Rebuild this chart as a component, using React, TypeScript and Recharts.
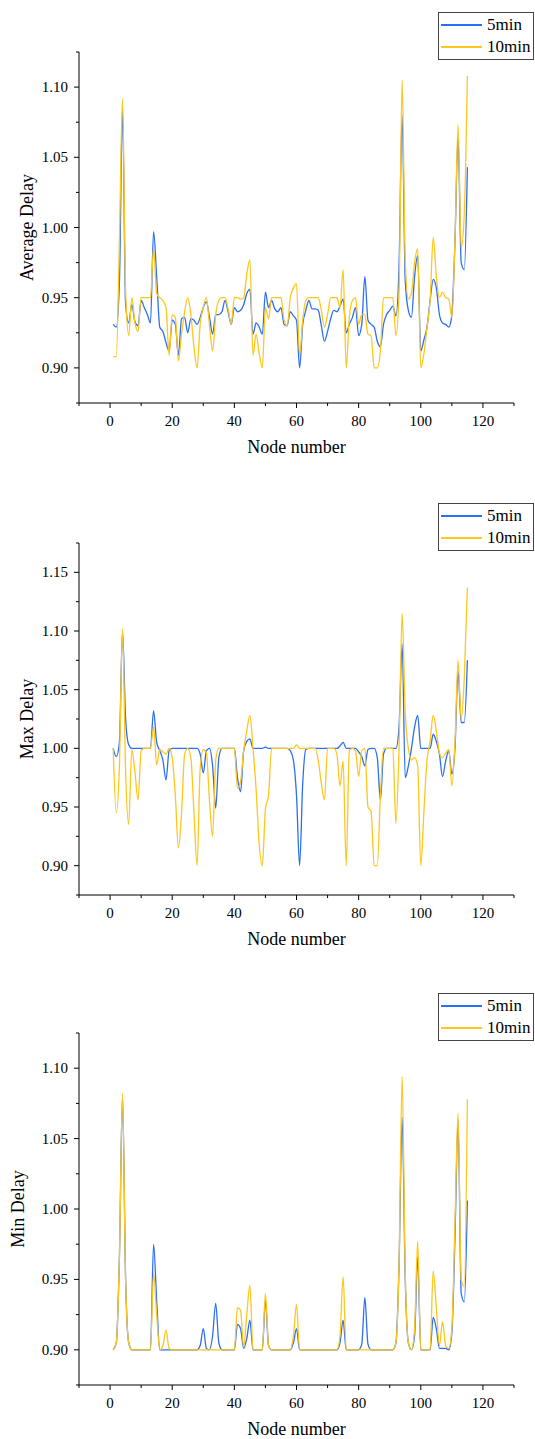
import React from "react";
import { LineChart, Line, XAxis, YAxis } from "recharts";

// node numbers along the x axis
const nodes = Array.from({ length: 115 }, (_, i) => i + 1);

const xTicks = [-10, 0, 10, 20, 30, 40, 50, 60, 70, 80, 90, 100, 110, 120, 130];
const avgTicks = [0.875, 0.9, 0.925, 0.95, 0.975, 1.0, 1.025, 1.05, 1.075, 1.1, 1.125];
const maxTicks = [0.875, 0.9, 0.925, 0.95, 0.975, 1.0, 1.025, 1.05, 1.075, 1.1, 1.125, 1.15, 1.175];
const minTicks = [0.875, 0.9, 0.925, 0.95, 0.975, 1.0, 1.025, 1.05, 1.075, 1.1, 1.125];

// Average delay
const avg5 = [
  0.931, 0.929, 0.96, 1.085, 0.945, 0.932, 0.945, 0.933, 0.93, 0.948,
  0.943, 0.938, 0.932, 0.997, 0.965, 0.929, 0.926, 0.918, 0.912, 0.934,
  0.931, 0.909, 0.935, 0.936, 0.925, 0.935, 0.934, 0.931, 0.936, 0.943,
  0.947, 0.936, 0.924, 0.938, 0.938, 0.94, 0.948, 0.94, 0.931, 0.943,
  0.94, 0.941, 0.945, 0.953, 0.956, 0.924, 0.932, 0.929, 0.924, 0.954,
  0.943, 0.948, 0.942, 0.94, 0.943, 0.931, 0.93, 0.94, 0.937, 0.934,
  0.9, 0.931, 0.941, 0.948, 0.942, 0.942, 0.941, 0.93, 0.919, 0.926,
  0.935, 0.941, 0.94, 0.944, 0.949, 0.925, 0.931, 0.936, 0.943, 0.923,
  0.931, 0.965, 0.934, 0.931, 0.929, 0.919, 0.915, 0.931, 0.938, 0.941,
  0.944, 0.937, 0.972, 1.08, 0.962, 0.941, 0.936, 0.965, 0.98, 0.912,
  0.92, 0.929, 0.948, 0.963, 0.957, 0.938, 0.932, 0.931, 0.929, 0.938,
  0.99, 1.065, 0.975, 0.97, 1.043,
];
const avg10 = [
  0.908, 0.908, 0.99, 1.092, 0.955, 0.923, 0.95, 0.932, 0.926, 0.95,
  0.95, 0.95, 0.95, 0.985, 0.953, 0.95, 0.948, 0.943, 0.909, 0.938,
  0.936, 0.905, 0.924, 0.94, 0.95, 0.938, 0.915, 0.9, 0.931, 0.943,
  0.95, 0.93, 0.912, 0.938, 0.948, 0.95, 0.95, 0.942, 0.931, 0.95,
  0.95, 0.949, 0.95, 0.967, 0.977, 0.909, 0.924, 0.91, 0.9, 0.943,
  0.935, 0.95, 0.95, 0.95, 0.95, 0.934, 0.93, 0.95, 0.957, 0.96,
  0.909, 0.934, 0.948, 0.95, 0.95, 0.95, 0.95, 0.941, 0.929, 0.938,
  0.95, 0.95, 0.95, 0.943, 0.97, 0.9, 0.936, 0.948, 0.95, 0.931,
  0.938, 0.938, 0.924, 0.923, 0.9, 0.9, 0.912, 0.95, 0.95, 0.95,
  0.95, 0.923, 0.953, 1.105, 0.976, 0.949, 0.953, 0.975, 0.985, 0.9,
  0.91, 0.929, 0.948, 0.993, 0.965, 0.95, 0.954, 0.95, 0.949, 0.936,
  0.99, 1.073, 0.985, 1.01, 1.108,
];

// Max delay
const max5 = [
  1.0, 0.993, 1.005, 1.1, 1.025, 1.003, 1.0, 1.0, 1.0, 1.0,
  1.0, 1.0, 1.0, 1.032, 1.005, 0.998, 0.99, 0.973, 0.998, 1.0,
  1.0, 1.0, 1.0, 1.0, 1.0, 1.0, 1.0, 1.0, 0.995, 0.979,
  0.998, 1.0, 0.985, 0.949, 0.992, 1.0, 1.0, 1.0, 1.0, 1.0,
  0.975, 0.963, 0.998, 1.006, 1.008, 1.0, 1.0, 1.0, 1.0, 1.001,
  1.0, 1.0, 1.0, 1.0, 1.0, 1.0, 1.0, 0.998, 0.99, 0.96,
  0.9, 0.97, 0.999, 1.0, 1.0, 1.0, 1.0, 1.0, 1.0, 1.0,
  1.0, 1.0, 1.0, 1.002, 1.005, 1.0, 1.0, 1.0, 1.0, 0.997,
  0.993, 0.985, 0.999, 1.0, 1.0, 0.992, 0.956, 0.995, 1.0, 1.0,
  1.0, 1.0, 1.018, 1.089, 0.975, 0.985, 1.0, 1.018, 1.028, 1.0,
  1.0, 1.0, 1.0, 1.012, 1.006, 0.995, 0.976, 0.989, 0.998, 0.978,
  1.0, 1.066, 1.022, 1.022, 1.075,
];
const max10 = [
  1.0, 0.945, 0.985, 1.102, 0.98, 0.935, 0.999, 0.98, 0.956, 0.998,
  1.0, 1.0, 1.0, 1.018, 0.986, 0.999, 0.997, 0.995, 1.0, 0.992,
  0.96, 0.915, 0.945, 0.995, 1.0, 0.992, 0.945, 0.9, 0.983, 0.999,
  0.996, 0.955, 0.925, 0.99, 1.0, 1.0, 1.0, 1.0, 1.0, 1.0,
  0.966, 0.972, 0.998, 1.015, 1.028, 1.0, 0.965, 0.918, 0.9, 0.948,
  0.96, 1.0, 1.0, 1.0, 1.0, 1.0, 1.0, 1.0, 1.0, 1.003,
  1.0, 1.0, 1.0, 1.0, 1.0, 1.0, 0.99, 0.97, 0.956, 1.0,
  1.0, 1.0, 0.995, 0.968, 0.989, 0.9, 0.998, 1.0, 0.998, 0.976,
  0.998, 1.0, 0.95, 0.946, 0.9, 0.9, 0.96, 1.0, 1.0, 1.0,
  1.0, 0.936, 1.0, 1.115, 1.03, 1.0, 0.99, 0.992, 0.985, 0.9,
  0.946, 0.99, 1.006, 1.028, 1.015, 0.996, 0.992, 0.996, 0.999, 0.968,
  1.005, 1.075, 1.025, 1.06, 1.137,
];

// Min delay
const min5 = [
  0.9, 0.905, 0.965, 1.08, 0.95, 0.905, 0.9, 0.9, 0.9, 0.9,
  0.9, 0.9, 0.9, 0.975, 0.935, 0.9, 0.9, 0.9, 0.9, 0.9,
  0.9, 0.9, 0.9, 0.9, 0.9, 0.9, 0.9, 0.9, 0.903, 0.915,
  0.901, 0.9, 0.91, 0.933, 0.905, 0.9, 0.9, 0.9, 0.9, 0.9,
  0.918, 0.915, 0.901, 0.908, 0.921, 0.9, 0.9, 0.9, 0.9, 0.935,
  0.903, 0.9, 0.9, 0.9, 0.9, 0.9, 0.9, 0.9, 0.905, 0.915,
  0.9, 0.9, 0.9, 0.9, 0.9, 0.9, 0.9, 0.9, 0.9, 0.9,
  0.9, 0.9, 0.9, 0.905, 0.921, 0.9, 0.9, 0.9, 0.9, 0.9,
  0.904, 0.937, 0.904, 0.9, 0.9, 0.9, 0.9, 0.9, 0.9, 0.9,
  0.9, 0.905, 0.96, 1.065, 0.95, 0.905, 0.9, 0.91, 0.966, 0.9,
  0.9, 0.9, 0.9, 0.923, 0.915, 0.901, 0.901, 0.901, 0.9, 0.912,
  0.98, 1.063, 0.94, 0.934, 1.006,
];
const min10 = [
  0.9, 0.905, 0.965, 1.082, 0.95, 0.905, 0.9, 0.9, 0.9, 0.9,
  0.9, 0.9, 0.9, 0.954, 0.925, 0.9, 0.903, 0.914, 0.901, 0.9,
  0.9, 0.9, 0.9, 0.9, 0.9, 0.9, 0.9, 0.9, 0.9, 0.9,
  0.9, 0.9, 0.9, 0.9, 0.9, 0.9, 0.9, 0.9, 0.9, 0.9,
  0.93, 0.928, 0.902, 0.925, 0.946, 0.9, 0.9, 0.9, 0.9, 0.94,
  0.903, 0.9, 0.9, 0.9, 0.9, 0.9, 0.9, 0.9, 0.91, 0.932,
  0.9, 0.9, 0.9, 0.9, 0.9, 0.9, 0.9, 0.9, 0.9, 0.9,
  0.9, 0.9, 0.9, 0.91, 0.952, 0.9, 0.9, 0.9, 0.9, 0.9,
  0.9, 0.9, 0.9, 0.9, 0.9, 0.9, 0.9, 0.9, 0.9, 0.9,
  0.9, 0.905, 0.96, 1.094, 0.955, 0.905, 0.9, 0.915, 0.977, 0.9,
  0.9, 0.9, 0.9, 0.956, 0.93, 0.903, 0.92, 0.903, 0.901, 0.915,
  0.99, 1.068, 0.95, 0.945, 1.078,
];

const BLUE = "#2c6ef4";
const YELLOW = "#ffc61c";
const FONT = "'Liberation Serif', 'Times New Roman', serif";

const panels = [
  { title: "Average Delay", s5: avg5, s10: avg10, ticks: avgTicks, plotTop: 52, plotH: 351, titleX: 27 },
  { title: "Max Delay", s5: max5, s10: max10, ticks: maxTicks, plotTop: 543, plotH: 352, titleX: 27 },
  { title: "Min Delay", s5: min5, s10: min10, ticks: minTicks, plotTop: 1033, plotH: 352, titleX: 18 },
];

const isMajor = (v: number, step: number) => Math.abs(v / step - Math.round(v / step)) < 1e-6;

const XTick = (props: any) => {
  const { x, y, payload } = props;
  const major = isMajor(payload.value, 20);
  return (
    <g>
      <line x1={x} x2={x} y1={y} y2={y + (major ? 5 : 3)} stroke="#000" />
      {major && (
        <text x={x} y={y + 23} textAnchor="middle" fontSize={15} fontFamily={FONT} fill="#000">
          {payload.value}
        </text>
      )}
    </g>
  );
};

const YTick = (props: any) => {
  const { x, y, payload } = props;
  const major = isMajor(payload.value, 0.05);
  return (
    <g>
      <line x1={x - (major ? 5 : 3)} x2={x} y1={y} y2={y} stroke="#000" />
      {major && (
        <text x={x - 11} y={y + 5} textAnchor="end" fontSize={15} fontFamily={FONT} fill="#000">
          {payload.value.toFixed(2)}
        </text>
      )}
    </g>
  );
};

function Panel({ title, s5, s10, ticks, plotTop, plotH, titleX }: any) {
  const data = nodes.map((n, i) => ({ n, m5: s5[i], m10: s10[i] }));
  const top = plotTop - 52;
  const height = 52 + plotH + 56;
  return (
    <div style={{ position: "absolute", left: 0, top, width: 535, height }}>
      <LineChart width={535} height={height} data={data} margin={{ top: 52, right: 21, bottom: 0, left: 0 }}>
        <XAxis
          dataKey="n"
          type="number"
          domain={[-10, 130]}
          ticks={xTicks}
          interval={0}
          height={56}
          tickSize={0}
          tickMargin={0}
          tickLine={false}
          tick={XTick}
          axisLine={{ stroke: "#000" }}
          label={{
            content: (p: any) => {
              const vb = p.viewBox || { x: 79, y: plotH + 52, width: 435 };
              return (
                <text x={vb.x + vb.width / 2} y={vb.y + 50} textAnchor="middle" fontSize={18} fontFamily={FONT} fill="#000">
                  Node number
                </text>
              );
            },
          }}
        />
        <YAxis
          type="number"
          domain={[ticks[0], ticks[ticks.length - 1]]}
          ticks={ticks}
          interval={0}
          width={79}
          tickSize={0}
          tickMargin={0}
          tickLine={false}
          tick={YTick}
          axisLine={{ stroke: "#000" }}
          label={{
            content: (p: any) => {
              const vb = p.viewBox || { y: 52, height: plotH };
              const cy = vb.y + vb.height / 2;
              return (
                <text
                  x={titleX}
                  y={cy}
                  transform={`rotate(-90 ${titleX} ${cy})`}
                  textAnchor="middle"
                  dominantBaseline="central"
                  fontSize={18}
                  fontFamily={FONT}
                  fill="#000"
                >
                  {title}
                </text>
              );
            },
          }}
        />
        <Line type="monotone" dataKey="m5" stroke={BLUE} strokeWidth={1.3} dot={false} isAnimationActive={false} />
        <Line type="monotone" dataKey="m10" stroke={YELLOW} strokeWidth={1.3} dot={false} isAnimationActive={false} />
      </LineChart>
      <div
        style={{
          position: "absolute",
          left: 438,
          top: 12,
          width: 96,
          height: 48,
          border: "1px solid #444",
          boxSizing: "border-box",
          background: "#fff",
          fontSize: 17,
          fontFamily: FONT,
          color: "#000",
        }}
      >
        {[
          { name: "5min", color: BLUE },
          { name: "10min", color: YELLOW },
        ].map((item, i) => (
          <div key={item.name} style={{ position: "absolute", left: 2, top: 2 + i * 22, height: 20, display: "flex", alignItems: "center" }}>
            <span style={{ display: "inline-block", width: 41, height: 0, borderTop: `2px solid ${item.color}` }} />
            <span style={{ marginLeft: 5, lineHeight: "20px", whiteSpace: "nowrap" }}>{item.name}</span>
          </div>
        ))}
      </div>
    </div>
  );
}

export default function App() {
  return (
    <div style={{ position: "absolute", left: 0, top: 0, width: 535, height: 1439, background: "#fff", fontFamily: FONT, overflow: "hidden" }}>
      {panels.map((p) => (
        <Panel key={p.title} {...p} />
      ))}
    </div>
  );
}
